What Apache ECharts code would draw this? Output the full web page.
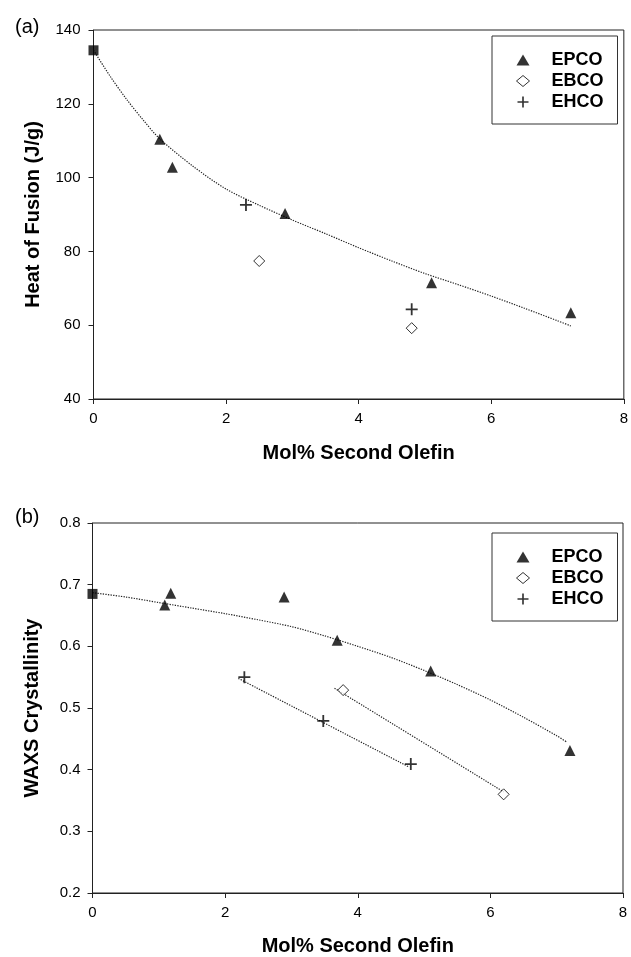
<!DOCTYPE html>
<html>
<head>
<meta charset="utf-8">
<script src="https://cdn.jsdelivr.net/npm/echarts@6/dist/echarts.min.js"></script>
<style>
  html, body { margin: 0; padding: 0; background: #fff; }
  #chart { width: 631px; height: 957px; }
</style>
</head>
<body>
<div id="chart"></div>
<script>
  // (a) heat of fusion vs mol% second olefin
  var hofPE = [[0, 134.5]];
  var hofEPCO = [[1.0, 110.4], [1.19, 102.8], [2.89, 90.3], [5.1, 71.5], [7.2, 63.4]];
  var hofEBCO = [[2.5, 77.4], [4.8, 59.2]];
  var hofEHCO = [[2.3, 92.6], [4.8, 64.3]];
  // dotted trend curve
  var hofTrend = [[0, 134.5], [0.25, 127.5], [0.5, 121.2], [0.75, 115.6], [1, 110.5], [1.5, 103.1],
    [2, 96.9], [2.5, 92.5], [3, 88.5], [3.5, 84.8], [4, 81], [4.5, 77.4], [5, 74], [5.5, 71],
    [6, 67.9], [6.5, 64.6], [7, 61.2], [7.2, 59.8]];

  // (b) WAXS crystallinity vs mol% second olefin
  var waxsPE = [[0, 0.685]];
  var waxsEPCO = [[1.09, 0.667], [1.18, 0.686], [2.89, 0.68], [3.69, 0.61], [5.1, 0.56], [7.2, 0.431]];
  var waxsEBCO = [[3.78, 0.529], [6.2, 0.36]];
  var waxsEHCO = [[2.29, 0.55], [3.48, 0.479], [4.8, 0.409]];
  var waxsTrendEPCO = [[0, 0.687], [0.5, 0.68], [1, 0.671], [1.5, 0.662], [2, 0.653], [2.5, 0.643],
    [3, 0.632], [3.5, 0.617], [4, 0.6], [4.5, 0.582], [5, 0.561], [5.5, 0.538], [6, 0.513],
    [6.5, 0.485], [7, 0.455], [7.15, 0.445]];
  var waxsTrendEBCO = [[3.65, 0.532], [6.2, 0.364]];
  var waxsTrendEHCO = [[2.2, 0.548], [4.76, 0.405]];

  var xTicks = [0, 2, 4, 6, 8];
  var legendNames = ['EPCO', 'EBCO', 'EHCO'];

  var font = 'Liberation Sans, Arial, sans-serif';
  var plusPath = 'path://M4.25,0H5.75V4.25H10V5.75H5.75V10H4.25V5.75H0V4.25H4.25Z';

  function xAxisFor(idx) {
    return {
      type: 'value', gridIndex: idx,
      min: xTicks[0], max: xTicks[xTicks.length - 1], interval: 2,
      name: 'Mol% Second Olefin', nameLocation: 'middle', nameGap: idx === 0 ? 44 : 43,
      nameTextStyle: { fontFamily: font, fontWeight: 'bold', fontSize: 20, color: '#000' },
      axisLine: { onZero: false, lineStyle: { color: '#222', width: 1 } },
      axisTick: { inside: false, length: 5, lineStyle: { color: '#222' } },
      axisLabel: { margin: 12, fontFamily: font, fontSize: 15, color: '#000' },
      splitLine: { show: false }
    };
  }

  function scatter(name, data, idx, symbol, size, style) {
    return {
      name: name, type: 'scatter', xAxisIndex: idx, yAxisIndex: idx,
      data: data, symbol: symbol, symbolSize: size, itemStyle: style, z: 5
    };
  }

  function trend(data, idx) {
    return {
      type: 'line', xAxisIndex: idx, yAxisIndex: idx, data: data,
      smooth: 0.3, showSymbol: false, silent: true, z: 2,
      lineStyle: { color: '#222', width: 1.2, type: [1.3, 1.3] }
    };
  }

  function legendAt(top) {
    return {
      data: legendNames, orient: 'vertical', left: 492, top: top,
      padding: [14, 14, 12, 24], itemGap: 1, itemWidth: 13, itemHeight: 11,
      borderColor: '#333', borderWidth: 1, backgroundColor: '#fff',
      selectedMode: false,
      itemStyle: { borderWidth: 1 },
      textStyle: { fontFamily: font, fontWeight: 'bold', fontSize: 18, color: '#000',
        lineHeight: 20, padding: [0, 0, 0, 17] }
    };
  }

  var tri = { color: '#000' };
  var dia = { color: '#fff', borderColor: '#000', borderWidth: 1 };
  var plus = { color: '#000' };
  var sq = { color: '#000' };

  var chart = echarts.init(document.getElementById('chart'), null, { renderer: 'canvas' });
  chart.setOption({
    animation: false,
    backgroundColor: '#fff',
    title: [
      { text: '(a)', left: 10, top: 12, textStyle: { fontFamily: font, fontWeight: 'normal', fontSize: 20, color: '#000' } },
      { text: '(b)', left: 10, top: 502, textStyle: { fontFamily: font, fontWeight: 'normal', fontSize: 20, color: '#000' } }
    ],
    legend: [legendAt(36), legendAt(533)],
    grid: [
      { left: 93.5, right: 6, top: 30, height: 369, show: true, borderColor: '#222', borderWidth: 1 },
      { left: 92.5, right: 8, top: 523, height: 370, show: true, borderColor: '#222', borderWidth: 1 }
    ],
    xAxis: [xAxisFor(0), xAxisFor(1)],
    yAxis: [
      {
        type: 'value', gridIndex: 0, min: 40, max: 140, interval: 20,
        name: 'Heat of Fusion (J/g)', nameLocation: 'middle', nameGap: 50,
        nameTextStyle: { fontFamily: font, fontWeight: 'bold', fontSize: 20, color: '#000' },
        axisLine: { show: true, lineStyle: { color: '#222' } },
        axisTick: { show: true, inside: false, length: 5, lineStyle: { color: '#222' } },
        axisLabel: { margin: 13, fontFamily: font, fontSize: 15, color: '#000' },
        splitLine: { show: false }
      },
      {
        type: 'value', gridIndex: 1, min: 0.2, max: 0.8, interval: 0.1,
        name: 'WAXS Crystallinity', nameLocation: 'middle', nameGap: 50,
        nameTextStyle: { fontFamily: font, fontWeight: 'bold', fontSize: 20, color: '#000' },
        axisLine: { show: true, lineStyle: { color: '#222' } },
        axisTick: { show: true, inside: false, length: 5, lineStyle: { color: '#222' } },
        axisLabel: { margin: 12, fontFamily: font, fontSize: 15, color: '#000',
          formatter: function (v) { return v.toFixed(1); } },
        splitLine: { show: false }
      }
    ],
    series: [
      trend(hofTrend, 0),
      scatter('PE', hofPE, 0, 'rect', 10, sq),
      scatter('EPCO', hofEPCO, 0, 'triangle', 11, tri),
      scatter('EBCO', hofEBCO, 0, 'diamond', 11, dia),
      scatter('EHCO', hofEHCO, 0, plusPath, 12, plus),

      trend(waxsTrendEPCO, 1),
      trend(waxsTrendEBCO, 1),
      trend(waxsTrendEHCO, 1),
      scatter('PE', waxsPE, 1, 'rect', 10, sq),
      scatter('EPCO', waxsEPCO, 1, 'triangle', 11, tri),
      scatter('EBCO', waxsEBCO, 1, 'diamond', 11, dia),
      scatter('EHCO', waxsEHCO, 1, plusPath, 12, plus)
    ]
  });
</script>
</body>
</html>
